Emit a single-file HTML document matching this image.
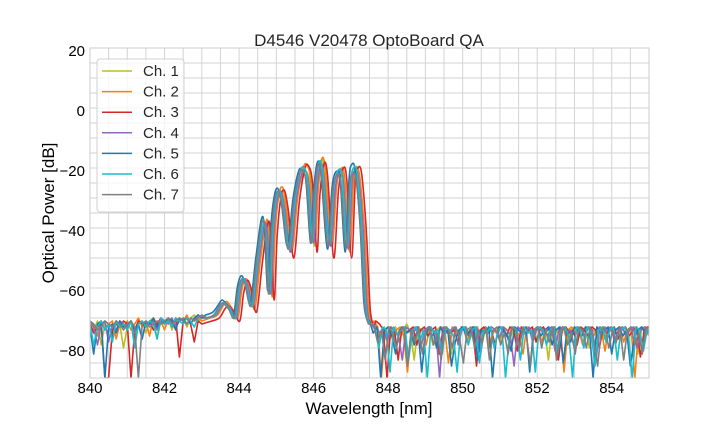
<!DOCTYPE html>
<html><head><meta charset="utf-8"><style>
body{margin:0;background:#fff;}
svg{display:block;font-family:"Liberation Sans",Arial,sans-serif;}
</style></head><body>
<svg id="chart" width="720" height="432" viewBox="0 0 720 432" xmlns="http://www.w3.org/2000/svg">
<rect x="0" y="0" width="720" height="432" fill="#fff"/>
<defs><clipPath id="pc"><rect x="90" y="48" width="559" height="330"/></clipPath></defs>
<g id="grid"></g>
<g id="series" clip-path="url(#pc)"></g>
<rect x="90" y="48" width="559" height="330" fill="none" stroke="#cccccc" stroke-width="1"/>
<g id="ticks"></g>
<text x="369" y="46" text-anchor="middle" font-size="17" fill="#262626">D4546 V20478 OptoBoard QA</text>
<text x="369" y="414" text-anchor="middle" font-size="17" fill="#000">Wavelength [nm]</text>
<text transform="translate(54,213) rotate(-90)" text-anchor="middle" font-size="17" fill="#000">Optical Power [dB]</text>
<g id="legend"></g>
</svg>
<script>
const xTicks=[840,842,844,846,848,850,852,854];
const yTicks=[20,0,-20,-40,-60,-80];
const channelNames=["Ch. 1","Ch. 2","Ch. 3","Ch. 4","Ch. 5","Ch. 6","Ch. 7"];
const channelColors=["#bcbd22","#ff7f0e","#d62728","#9467bd","#1f77b4","#17becf","#7f7f7f"];
const channelShift=[0.10,0.12,0.17,0.08,0.0,0.05,0.02];
const structWl=[843.1,843.3,843.45,843.55,843.7,843.85,843.95,844.05,844.15,844.3,844.45,844.6,844.68,844.77,844.85,844.95,845.05,845.15,845.3,845.45,845.6,845.7,845.8,845.92,846.0,846.1,846.2,846.37,846.5,846.63,846.72,846.85,846.95,847.02,847.12,847.25,847.35,847.45];
const structDb=[
[-70,-69,-66,-65,-67,-70,-61,-57,-59,-66,-51,-39,-42,-61,-42,-30,-28,-34,-47,-31,-22,-21,-26,-46,-29,-17.5,-22,-45,-27,-21,-25,-47,-25,-20,-22,-41,-66,-72],
[-70,-69,-66,-64.5,-67,-70,-61,-57,-59,-67,-51,-38,-41,-63,-41,-29,-26.5,-33,-48,-30,-20,-19,-24,-44,-28,-17,-21,-46,-26,-20,-24,-48,-25,-20.5,-23,-42,-66,-72],
[-71,-70,-67,-66,-68,-71,-62,-57.5,-60,-68,-52,-38.5,-42,-64,-43,-30,-27.5,-34,-50,-31,-20,-19.5,-25,-48,-29,-19,-22,-50,-27,-20,-24,-50,-24,-20,-22,-42,-67,-73],
[-70,-69,-66,-65,-67,-70,-61,-57,-59,-66,-51,-39,-42,-62,-42,-30,-28,-34,-48,-31,-22,-21,-26,-45,-29,-19,-23,-46,-27,-21,-25,-47,-25,-21,-23,-41,-66,-72],
[-69,-68,-65.5,-64,-66,-69,-60,-56,-58,-65,-50,-37,-40,-61,-40,-29,-27,-33,-46,-30,-21,-20.8,-25,-45,-28,-18.2,-22,-47,-26,-21,-25,-48,-24,-18.9,-21,-40,-65,-71],
[-70,-69,-66,-65,-67,-70,-61,-57,-59,-66,-51,-39,-43,-62,-42,-30,-28,-34,-47,-31,-21,-20,-25,-44,-28,-18,-22,-45,-26,-20.5,-24,-46,-25,-20,-22,-41,-66,-72],
[-70,-69,-66,-65,-67,-70,-61,-57,-59,-66,-51,-38,-41,-62,-42,-30,-28,-34,-47,-31,-22,-21,-26,-45,-29,-19,-23,-46,-27,-22,-26,-47,-26,-22,-24,-42,-66,-72]
];
const leftNoise=[
[-72,-74,-71,-79,-72,-73,-76,-71,-72,-80,-73,-71,-78,-72,-71,-75,-71,-70,-77,-71,-72,-70,-74,-70,-71,-70,-73,-70,-69,-71,-70],
[-73,-72,-76,-71,-74,-72,-71,-77,-72,-73,-71,-74,-72,-70,-73,-71,-76,-70,-72,-71,-74,-70,-71,-73,-70,-71,-69,-72,-70,-70,-71],
[-72,-75,-73,-72,-90,-90,-74,-72,-73,-71,-72,-90,-74,-71,-72,-73,-71,-74,-72,-70,-72,-71,-73,-70,-83,-71,-70,-72,-78,-71,-72],
[-71,-73,-79,-72,-71,-78,-72,-74,-71,-72,-73,-71,-75,-72,-71,-73,-72,-71,-74,-70,-71,-72,-70,-73,-71,-70,-72,-70,-71,-69,-70],
[-73,-82,-72,-71,-90,-73,-72,-75,-71,-73,-72,-71,-74,-72,-77,-71,-72,-70,-73,-71,-72,-70,-71,-74,-70,-71,-70,-72,-70,-69,-70],
[-72,-79,-73,-71,-74,-72,-78,-71,-73,-72,-74,-71,-80,-72,-71,-73,-71,-72,-77,-70,-72,-71,-73,-70,-71,-72,-70,-71,-73,-70,-69],
[-71,-72,-74,-73,-71,-72,-73,-71,-72,-74,-72,-71,-73,-90,-72,-71,-73,-72,-71,-72,-71,-70,-72,-71,-70,-71,-72,-70,-71,-70,-69]
];
const rightNoise=[
[-72,-74,-76,-73,-80,-74,-73,-78,-74,-72,-75,-84,-73,-74,-76,-73,-79,-74,-73,-76,-74,-82,-73,-75,-74,-73,-77,-74,-73,-80,-74,-73,-75,-74,-78,-73,-74,-76,-73,-81,-74,-73,-75,-74,-77,-73,-74,-84,-73,-75,-74,-73,-78,-74,-73,-76,-74,-73,-80,-74,-75,-73,-77,-74,-73,-79,-74,-73,-76,-74,-73,-82,-74,-73,-76,-74],
[-71,-73,-90,-74,-73,-77,-74,-73,-76,-88,-74,-73,-75,-74,-79,-73,-74,-76,-73,-74,-85,-73,-75,-74,-73,-78,-74,-73,-76,-74,-73,-80,-74,-75,-73,-74,-77,-73,-74,-76,-82,-73,-74,-75,-73,-78,-74,-73,-76,-74,-73,-88,-74,-73,-75,-74,-79,-73,-74,-76,-73,-74,-81,-73,-75,-74,-73,-78,-74,-73,-90,-74,-73,-76,-74,-73],
[-71,-72,-74,-90,-73,-74,-84,-73,-75,-74,-73,-79,-74,-73,-76,-74,-73,-82,-74,-73,-75,-74,-78,-73,-74,-76,-73,-86,-74,-73,-75,-74,-79,-73,-74,-76,-73,-74,-81,-73,-75,-74,-73,-78,-74,-73,-76,-74,-73,-84,-74,-73,-75,-74,-79,-73,-74,-76,-73,-74,-80,-73,-75,-74,-73,-77,-74,-73,-76,-74,-73,-83,-74,-73,-75,-74],
[-72,-73,-75,-74,-78,-73,-74,-76,-84,-73,-74,-75,-73,-80,-74,-73,-76,-74,-90,-73,-75,-74,-73,-79,-74,-73,-76,-74,-73,-82,-74,-75,-73,-74,-77,-73,-74,-76,-86,-73,-74,-75,-73,-78,-74,-73,-76,-74,-73,-81,-74,-73,-75,-74,-79,-73,-74,-76,-73,-74,-84,-73,-75,-74,-73,-78,-74,-73,-76,-74,-73,-80,-74,-73,-75,-74],
[-71,-75,-73,-90,-74,-73,-76,-82,-74,-73,-75,-74,-79,-73,-88,-76,-73,-74,-80,-73,-75,-74,-86,-78,-74,-73,-76,-74,-73,-84,-74,-75,-73,-90,-77,-73,-74,-76,-81,-73,-74,-75,-73,-88,-74,-73,-76,-74,-73,-79,-74,-73,-85,-74,-78,-73,-74,-76,-73,-74,-90,-73,-75,-74,-73,-82,-74,-73,-76,-74,-86,-77,-74,-73,-75,-74],
[-72,-74,-80,-73,-74,-88,-73,-76,-74,-73,-84,-74,-73,-78,-74,-90,-73,-75,-74,-82,-73,-74,-76,-88,-74,-73,-79,-74,-73,-85,-74,-75,-73,-80,-74,-73,-90,-76,-73,-74,-84,-73,-75,-74,-88,-73,-74,-79,-74,-73,-82,-74,-73,-76,-90,-73,-74,-80,-73,-75,-86,-74,-73,-78,-74,-73,-84,-74,-73,-76,-90,-73,-74,-81,-74,-73],
[-72,-73,-78,-74,-84,-73,-75,-80,-74,-73,-86,-74,-78,-73,-82,-74,-73,-79,-75,-84,-73,-74,-80,-73,-77,-85,-74,-73,-80,-74,-78,-73,-84,-74,-73,-79,-75,-82,-73,-74,-80,-73,-77,-86,-74,-73,-80,-74,-78,-73,-84,-74,-73,-79,-75,-82,-73,-74,-80,-73,-77,-86,-74,-73,-80,-74,-78,-73,-84,-74,-73,-79,-75,-82,-73,-74]
];
const X0=840,X1=855,Y0=-90,Y1=20,PL=90,PR=649,PT=48,PB=378;
function sx(w){return PL+(w-X0)/(X1-X0)*(PR-PL);}
function sy(d){return PB-(d-Y0)/(Y1-Y0)*(PB-PT);}
const NS="http://www.w3.org/2000/svg";
function mk(tag,parent,attrs){const e=document.createElementNS(NS,tag);for(const k in attrs)e.setAttribute(k,attrs[k]);parent.appendChild(e);return e;}
function smoothPath(p){
  let d='M'+p[0][0].toFixed(1)+','+p[0][1].toFixed(1);
  for(let i=0;i<p.length-1;i++){
    const p0=p[i-1]||p[i],p1=p[i],p2=p[i+1],p3=p[i+2]||p2;
    const c1=[p1[0]+(p2[0]-p0[0])/6,p1[1]+(p2[1]-p0[1])/6];
    const c2=[p2[0]-(p3[0]-p1[0])/6,p2[1]-(p3[1]-p1[1])/6];
    d+=' C'+c1[0].toFixed(1)+','+c1[1].toFixed(1)+' '+c2[0].toFixed(1)+','+c2[1].toFixed(1)+' '+p2[0].toFixed(1)+','+p2[1].toFixed(1);
  }
  return d;
}
const grid=document.getElementById('grid');
for(let w=840.5;w<855;w+=0.5){
  const l=mk('line',grid,{x1:sx(w),x2:sx(w),y1:PT,y2:PB,stroke:'#d3d3d3','stroke-width':1});
  
  
}
for(let d=-85;d<20;d+=5){
  const l=mk('line',grid,{x1:PL,x2:PR,y1:sy(d),y2:sy(d),stroke:'#d3d3d3','stroke-width':1});
  
  
}
const ticks=document.getElementById('ticks');
xTicks.forEach(v=>{
  const t=mk('text',ticks,{x:sx(v),y:PB+15,'text-anchor':'middle','font-size':15,fill:'#000'});
  t.textContent=String(v);
  
  
});
yTicks.forEach(v=>{
  const t=mk('text',ticks,{x:PL-5,y:sy(v)+8,'text-anchor':'end','font-size':15,fill:'#000'});
  t.textContent=v<0?'\u2212'+Math.abs(v):String(v);
  
  
});
const series=document.getElementById('series');
channelNames.forEach((n,i)=>{
  const left=leftNoise[i].map((d,k)=>[sx(840+k*0.1),sy(d)]);
  const mid=structWl.map((w,k)=>[sx(w+channelShift[i]),sy(structDb[i][k])]);
  const right=rightNoise[i].map((d,k)=>[sx(847.5+channelShift[i]+k*0.1),sy(d)]);
  let d='M'+left.map(q=>q[0].toFixed(1)+','+q[1].toFixed(1)).join(' L');
  d+=' L'+smoothPath(mid).slice(1);
  d+=' L'+right.map(q=>q[0].toFixed(1)+','+q[1].toFixed(1)).join(' L');
  const p=mk('path',series,{d:d,fill:'none',stroke:channelColors[i],'stroke-width':1.6,'stroke-linejoin':'round'});
  
  
});
const lg=document.getElementById('legend');
const box=mk('rect',lg,{x:97,y:59,width:87,height:153,rx:3,fill:'#fff','fill-opacity':0.8,stroke:'#d0d0d0'});


channelNames.forEach((n,i)=>{
  const y=71+i*20.6;
  const l=mk('line',lg,{x1:102,x2:132,y1:y,y2:y,stroke:channelColors[i],'stroke-width':1.5});
  
  
  const t=mk('text',lg,{x:143,y:y+5,'font-size':15,fill:'#262626'});
  t.textContent=n;
  
  
});
</script>
</body></html>
